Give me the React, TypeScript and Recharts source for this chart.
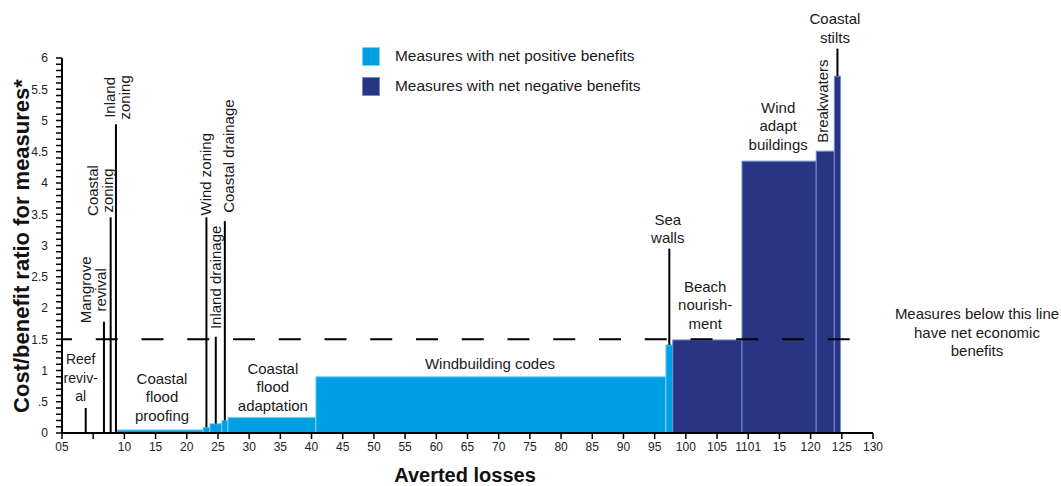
import React from "react";
import {
  ComposedChart,
  XAxis,
  YAxis,
  ReferenceArea,
  ReferenceLine,
  ReferenceDot,
} from "recharts";

// measures, in order along the averted-losses axis
const measureNames = [
  "Reef revival",
  "Mangrove revival",
  "Coastal zoning",
  "Inland zoning",
  "Coastal flood proofing",
  "Wind zoning",
  "Inland drainage",
  "Coastal drainage",
  "Coastal flood adaptation",
  "Windbuilding codes",
  "Sea walls",
  "Beach nourishment",
  "Wind adapt buildings",
  "Breakwaters",
  "Coastal stilts",
];
const lossStart = [3.5, 6.55, 7.65, 8.5, 8.8, 22.6, 23.7, 25.6, 26.6, 40.7, 96.8, 97.9, 109, 120.9, 123.8];
const lossEnd = [4.1, 6.9, 7.95, 8.8, 22.6, 23.7, 25.6, 26.6, 40.7, 96.8, 97.9, 109, 120.9, 123.8, 124.8];
const costBenefit = [0, 0, 0, 0, 0.05, 0.09, 0.15, 0.2, 0.25, 0.9, 1.41, 1.49, 4.35, 4.51, 5.71];
const netPositive = [true, true, true, true, true, true, true, true, true, true, true, false, false, false, false];
// leader lines: top of the line for the measures that have one
const leaderTop = [0.4, 1.78, 3.45, 4.94, null, 3.45, 1.54, 3.39, null, null, 2.95, null, null, null, 6.15];

const threshold = 1.5;

const xTicks = [0, 5, 10, 15, 20, 25, 30, 35, 40, 45, 50, 55, 60, 65, 70, 75, 80, 85, 90, 95, 100, 105, 110, 115, 120, 125, 130];
const xTickLabels = ["05", "", "10", "15", "20", "25", "30", "35", "40", "45", "50", "55", "60", "65", "70", "75", "80", "85", "90", "95", "100", "105", "1101", "15", "120", "125", "130"];
const yMajorTicks = [0, 0.5, 1, 1.5, 2, 2.5, 3, 3.5, 4, 4.5, 5, 5.5, 6];
const yTickLabels = ["0", ".5", "1", "1.5", "2", "2.5", "3", "3.5", "4", "4.5", "5", "5.5", "6"];

// text placement (centre of each label block, in chart units)
const labels = [
  { lines: ["Reef", "reviv-", "al"], x: 3.0, y: 0.88, rotate: false, size: 14 },
  { lines: ["Mangrove", "revival"], x: 4.97, y: 2.29, rotate: true },
  { lines: ["Coastal", "zoning"], x: 6.09, y: 3.88, rotate: true },
  { lines: ["Inland", "zoning"], x: 8.82, y: 5.37, rotate: true },
  { lines: ["Coastal", "flood", "proofing"], x: 16.03, y: 0.58, rotate: false },
  { lines: ["Wind zoning"], x: 23.08, y: 4.14, rotate: true },
  { lines: ["Inland drainage"], x: 24.69, y: 2.49, rotate: true },
  { lines: ["Coastal drainage"], x: 26.77, y: 4.43, rotate: true },
  { lines: ["Coastal", "flood", "adaptation"], x: 33.8, y: 0.74, rotate: false },
  { lines: ["Windbuilding codes"], x: 68.6, y: 1.11, rotate: false },
  { lines: ["Sea", "walls"], x: 97.1, y: 3.27, rotate: false },
  { lines: ["Beach", "nourish-", "ment"], x: 103.1, y: 2.05, rotate: false },
  { lines: ["Wind", "adapt", "buildings"], x: 114.8, y: 4.91, rotate: false },
  { lines: ["Breakwaters"], x: 122.0, y: 5.31, rotate: true },
  { lines: ["Coastal", "stilts"], x: 123.9, y: 6.48, rotate: false },
];

const LIGHT = "#009FE3";
const DARK = "#293583";
const FONT = "'Liberation Sans', Arial, sans-serif";

const yTicks = Array.from({ length: 61 }, (_, i) => i / 10);

function yTickFormat(v: number) {
  const i = yMajorTicks.findIndex((m) => Math.abs(m - v) < 1e-6);
  return i >= 0 ? yTickLabels[i] : "";
}

function xTickFormat(v: number) {
  const i = xTicks.indexOf(v);
  return i >= 0 ? xTickLabels[i] : "";
}

function LabelBlock({ cx, cy, lines, rotate, size = 15 }: any) {
  const lh = rotate ? 15 : 18.5;
  const n = lines.length;
  const transform = rotate
    ? `translate(${cx},${cy}) rotate(-90)`
    : `translate(${cx},${cy})`;
  return (
    <text
      transform={transform}
      textAnchor="middle"
      fontSize={size}
      fontFamily={FONT}
      fill="#1a1a1a"
    >
      {lines.map((l: string, i: number) => (
        <tspan key={i} x={0} y={(i - (n - 1) / 2) * lh} dy="0.35em">
          {l}
        </tspan>
      ))}
    </text>
  );
}

export default function App() {
  return (
    <div
      style={{
        position: "absolute",
        left: 0,
        top: 0,
        width: 1061,
        height: 486,
        fontFamily: FONT,
        background: "#fff",
        overflow: "hidden",
      }}
    >
      <ComposedChart
        width={1061}
        height={486}
        margin={{ top: 58, right: 188, bottom: 23, left: 22 }}
      >
        <XAxis
          type="number"
          dataKey="x"
          domain={[0, 130]}
          ticks={xTicks}
          interval={0}
          tickFormatter={xTickFormat}
          height={30}
          tickSize={6}
          tickMargin={3}
          axisLine={{ stroke: "#000", strokeWidth: 2 }}
          tickLine={{ stroke: "#000", strokeWidth: 1.5 }}
          tick={{ fill: "#222", fontSize: 12, fontFamily: FONT }}
          allowDataOverflow
        />
        <YAxis
          type="number"
          domain={[0, 6]}
          ticks={yTicks}
          interval={0}
          tickFormatter={yTickFormat}
          width={40}
          tickSize={6}
          tickMargin={8}
          axisLine={{ stroke: "#000", strokeWidth: 2 }}
          tickLine={{ stroke: "#000", strokeWidth: 1.5 }}
          tick={{ fill: "#222", fontSize: 12, fontFamily: FONT }}
          allowDataOverflow
        />
        {measureNames.map((name, i) =>
          costBenefit[i] > 0 ? (
            <ReferenceArea
              key={name}
              x1={lossStart[i]}
              x2={lossEnd[i]}
              y1={0}
              y2={costBenefit[i]}
              fill={netPositive[i] ? LIGHT : DARK}
              fillOpacity={1}
              stroke={netPositive[i] ? "#7fd0f2" : "#6d8fd0"}
              strokeWidth={1}
              ifOverflow="visible"
            />
          ) : null
        )}
        {measureNames.map((name, i) => {
          const top = leaderTop[i];
          if (top == null) return null;
          const mid = (lossStart[i] + lossEnd[i]) / 2;
          return (
            <ReferenceLine
              key={"lead-" + name}
              segment={[
                { x: mid, y: costBenefit[i] },
                { x: mid, y: top },
              ]}
              stroke="#000"
              strokeWidth={2}
              ifOverflow="visible"
            />
          );
        })}
        <ReferenceLine
          y={threshold}
          stroke="#000"
          strokeWidth={2}
          strokeDasharray="22 23.75"
          strokeDashoffset={12}
        />
        {labels.map((lb, i) => (
          <ReferenceDot
            key={"lab-" + i}
            x={lb.x}
            y={lb.y}
            r={0}
            ifOverflow="visible"
            shape={(p: any) => (
              <LabelBlock
                cx={p.cx}
                cy={p.cy}
                lines={lb.lines}
                rotate={lb.rotate}
                size={lb.size}
              />
            )}
          />
        ))}
      </ComposedChart>

      {/* axis titles */}
      <div
        style={{
          position: "absolute",
          left: 22 - 200,
          top: 246 - 13,
          width: 400,
          height: 26,
          lineHeight: "26px",
          textAlign: "center",
          transform: "rotate(-90deg)",
          fontWeight: "bold",
          fontSize: 22,
          color: "#111",
        }}
      >
        Cost/benefit ratio for measures*
      </div>
      <div
        style={{
          position: "absolute",
          left: 265,
          top: 465,
          width: 400,
          height: 20,
          textAlign: "center",
          fontWeight: "bold",
          fontSize: 20,
          lineHeight: "20px",
          color: "#111",
        }}
      >
        Averted losses
      </div>

      {/* legend */}
      {[
        { color: LIGHT, border: "#7fd0f2", text: "Measures with net positive benefits", top: 47 },
        { color: DARK, border: "#6d8fd0", text: "Measures with net negative benefits", top: 77 },
      ].map((it) => (
        <React.Fragment key={it.text}>
          <div
            style={{
              position: "absolute",
              left: 362,
              top: it.top,
              width: 16,
              height: 17,
              background: it.color,
              border: `1px solid ${it.border}`,
            }}
          />
          <div
            style={{
              position: "absolute",
              left: 395,
              top: it.top - 1,
              fontSize: 15.4,
              lineHeight: "19px",
              color: "#1a1a1a",
              whiteSpace: "nowrap",
            }}
          >
            {it.text}
          </div>
        </React.Fragment>
      ))}

      {/* threshold note */}
      <div
        style={{
          position: "absolute",
          left: 977 - 100,
          top: 305,
          width: 200,
          textAlign: "center",
          fontSize: 15,
          lineHeight: "18.5px",
          color: "#1a1a1a",
          whiteSpace: "nowrap",
        }}
      >
        Measures below this line
        <br />
        have net economic
        <br />
        benefits
      </div>
    </div>
  );
}
